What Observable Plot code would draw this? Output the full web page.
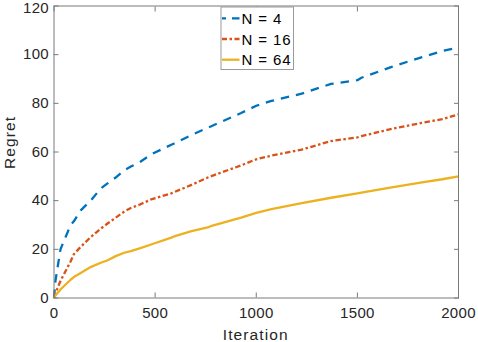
<!DOCTYPE html>
<html>
<head>
<meta charset="utf-8">
<script src="https://cdn.jsdelivr.net/npm/d3@7"></script>
<script src="https://cdn.jsdelivr.net/npm/@observablehq/plot@0.6"></script>
<style>
  html, body { margin: 0; padding: 0; background: #fff; }
  #chart { position: relative; width: 478px; height: 342px; }
</style>
</head>
<body>
<div id="chart"></div>
<script>
// Data
const iterations = [0, 7, 32, 82, 98, 132, 181, 231, 263, 305, 347, 380, 427, 480, 580, 594, 680, 760, 775, 925, 1000, 1075, 1225, 1370, 1500, 1520, 1670, 1820, 1920, 2000];
const regretN4  = [0, 7, 20, 30, 31.5, 36, 40, 45, 47, 49.5, 52.5, 54, 56, 59, 63, 63.5, 67, 70, 70.5, 76, 79, 81, 84, 88, 89.5, 90.5, 95, 99, 101.5, 103];
const regretN16 = [0, 2, 7, 15, 18, 21, 25, 28.5, 30.5, 33, 35.5, 37, 38.5, 40.5, 43, 43.5, 46.5, 49.5, 50, 54.5, 57, 58.5, 61, 64.5, 66, 66.5, 69.5, 72, 73.5, 75.5];
const regretN64 = [0, 1, 3.5, 7.5, 8.6, 10.3, 12.7, 14.5, 15.4, 17.2, 18.6, 19.3, 20.5, 22, 24.8, 25.3, 27.5, 29, 29.5, 33, 35, 36.5, 39, 41.2, 43, 43.3, 45.5, 47.5, 48.8, 50];
const seriesNames = ["N = 4", "N = 16", "N = 64"];
const seriesColors = ["#0072BD", "#D95319", "#EDB120"];
const seriesDash = ["8.5,7", "5.5,2.5,2.5,2.5", null];
const xTicks = [0, 500, 1000, 1500, 2000];
const yTicks = [0, 20, 40, 60, 80, 100, 120];

const allSeries = [regretN4, regretN16, regretN64];
const rows = allSeries.map(vals => iterations.map((x, i) => ({x, y: vals[i]})));

const font = "'Liberation Sans', Arial, Helvetica, sans-serif";
const axisColor = "#262626";
const frameColor = "#7a7a7a";

const marks = [];
rows.forEach((data, k) => {
  marks.push(Plot.line(data, {
    x: "x", y: "y",
    stroke: seriesColors[k],
    strokeWidth: 2.3,
    strokeDasharray: seriesDash[k] || undefined,
    strokeLinecap: "butt",
    strokeLinejoin: "round"
  }));
});

// Inward ticks on all four sides
marks.push(Plot.axisX(xTicks, {anchor: "bottom", tickSize: -5, text: null, stroke: frameColor, strokeWidth: 1, label: null}));
marks.push(Plot.axisX(xTicks, {anchor: "top", tickSize: -5, text: null, stroke: frameColor, strokeWidth: 1, label: null}));
marks.push(Plot.axisY(yTicks, {anchor: "left", tickSize: -5, text: null, stroke: frameColor, strokeWidth: 1, label: null}));
marks.push(Plot.axisY(yTicks, {anchor: "right", tickSize: -5, text: null, stroke: frameColor, strokeWidth: 1, label: null}));
// Tick labels (the topmost y label sits a little lower, as in the reference)
const yTop = yTicks[yTicks.length - 1];
marks.push(Plot.axisX(xTicks, {anchor: "bottom", tickSize: 0, tickPadding: 9, fill: axisColor, fontSize: 15, label: null, tickFormat: d => String(d)}));
marks.push(Plot.axisY(yTicks.filter(t => t !== yTop), {anchor: "left", tickSize: 0, tickPadding: 5, fill: axisColor, fontSize: 15, label: null, tickFormat: d => String(d)}));
marks.push(Plot.axisY([yTop], {anchor: "left", tickSize: 0, tickPadding: 5, dy: 2, fill: axisColor, fontSize: 15, label: null, tickFormat: d => String(d)}));
marks.push(Plot.frame({stroke: frameColor, strokeWidth: 1}));

const plot = Plot.plot({
  width: 478,
  height: 342,
  marginLeft: 53.5,
  marginRight: 20,
  marginTop: 5.5,
  marginBottom: 44.5,
  style: {fontFamily: font, fontSize: "15px", color: axisColor, background: "#fff", letterSpacing: "0.3px", overflow: "visible"},
  x: {domain: [0, 2000], label: null},
  y: {domain: [0, 120], label: null},
  marks
});

const svg = d3.select(plot);
// Axis titles
svg.append("text")
  .attr("x", 53.5 + (458 - 53.5) / 2).attr("y", 334)
  .attr("text-anchor", "middle").attr("dominant-baseline", "central")
  .style("font-family", font).style("font-size", "15.5px").style("letter-spacing", "1.1px")
  .attr("fill", axisColor)
  .text("Iteration");
svg.append("text")
  .attr("transform", "translate(9.5,142.5) rotate(-90)")
  .attr("text-anchor", "middle").attr("dominant-baseline", "central")
  .style("font-family", font).style("font-size", "15.5px").style("letter-spacing", "1.1px")
  .attr("fill", axisColor)
  .text("Regret");

// Legend
const lg = svg.append("g");
lg.append("rect").attr("x", 221).attr("y", 7).attr("width", 72.5).attr("height", 62.5)
  .attr("fill", "#fff").attr("stroke", "#9a9a9a").attr("stroke-width", 1);
seriesNames.forEach((name, k) => {
  const cy = 18.3 + k * 20.7;
  const ln = lg.append("line").attr("x1", 222).attr("x2", 239.5).attr("y1", cy).attr("y2", cy)
    .attr("stroke", seriesColors[k]).attr("stroke-width", 2.3);
  if (seriesDash[k]) ln.attr("stroke-dasharray", k === 0 ? "4,6,7.5" : "5,2.5,2.5,2.5");
  lg.append("text").attr("x", 241.5).attr("y", cy)
    .attr("text-anchor", "start").attr("dominant-baseline", "central")
    .style("font-family", font).style("font-size", "15px").style("letter-spacing", "0.9px")
    .attr("fill", "#000").text(name);
});

document.getElementById("chart").appendChild(plot);
</script>
</body>
</html>
